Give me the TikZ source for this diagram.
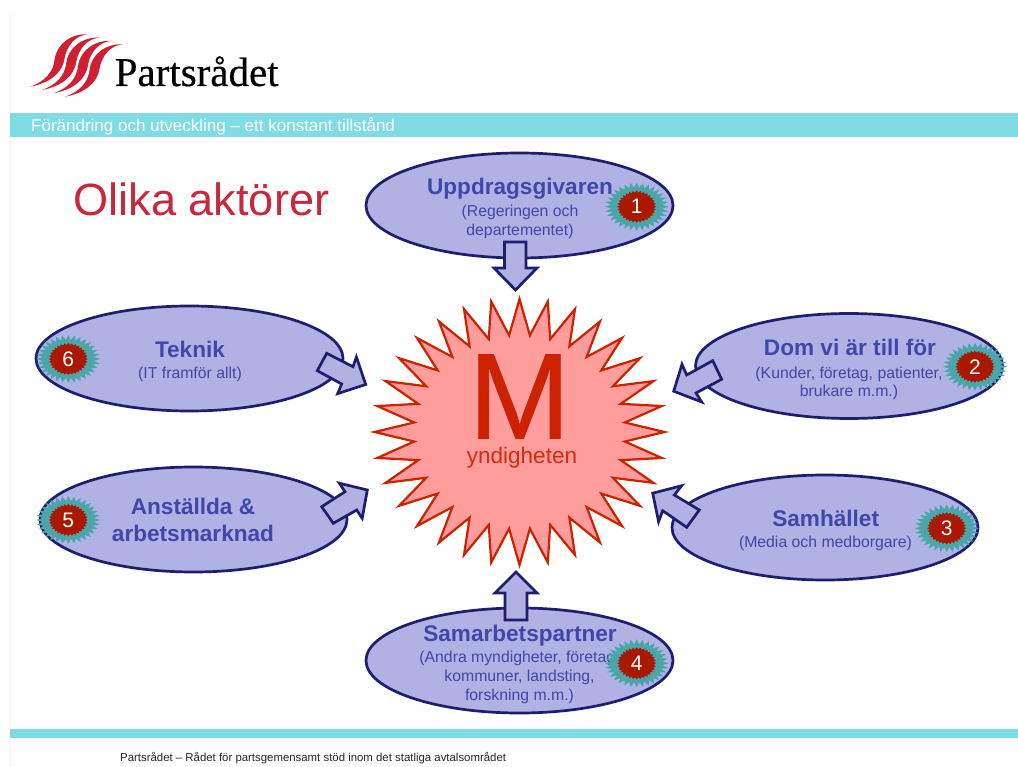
\documentclass[tikz,border=0pt]{standalone}
\usepackage{fontspec}
\setmainfont{Liberation Sans}
\newfontfamily\logofont[FakeBold=0.4]{Liberation Serif}
\newfontfamily\heavyfont[FakeBold=0.6]{Liberation Sans}
\usetikzlibrary{shapes.geometric}
\definecolor{barc}{HTML}{80DCE4}
\definecolor{ellfill}{HTML}{B0B2E4}
\definecolor{navy}{HTML}{1E1E6E}
\definecolor{txtblue}{HTML}{3F48A8}
\definecolor{starfill}{HTML}{FF9C9C}
\definecolor{starline}{HTML}{CC2200}
\definecolor{teal2}{HTML}{4AA6A8}
\definecolor{darkred}{HTML}{AA1800}
\definecolor{titlered}{HTML}{C8283C}
\definecolor{logored}{HTML}{CF2033}
\newcommand{\fs}[2]{\fontsize{#1}{#2}\selectfont}
\newcommand{\spikes}[6]{%
  \draw[#6] plot[samples at={0,1,...,64},variable=\t]
    ({#1+#3*(mod(\t,2)==0?1:#5)*sin(\t*5.625)},{#2-#4*(mod(\t,2)==0?1:#5)*cos(\t*5.625)}) -- cycle;}
\newcommand{\badge}[4]{%
  \spikes{#1}{#2}{32}{24}{0.8}{fill=teal2,draw=none}
  \spikes{#1}{#2}{19.5}{16}{0.88}{fill=darkred,draw=none}
  \node[numlbl] (#4) at (#1,#2) {#3};}
\newcommand{\swoosh}[2]{%
  \fill[logored,shift={(#1,#2)}] (30,86.7) .. controls (45,81.7) and (53.3,71.7) .. (54.5,60)
    .. controls (56.2,45) and (70,33.3) .. (88.3,34.3)
    .. controls (76,35) and (67,45) .. (64.6,58.3)
    .. controls (62.5,74) and (48,83.5) .. (30,86.7) -- cycle;}
\tikzset{
  actor/.style={ellipse,draw=navy,fill=ellfill,line width=2.7pt,inner sep=0pt,outer sep=0pt},
  blockarrow/.style={draw=navy,fill=ellfill,line width=2.7pt,line join=miter,miter limit=10},
  headlbl/.style={text=txtblue,font=\fs{22.6}{27.7}\bfseries,align=center,inner sep=0pt,anchor=base},
  sublbl/.style={text=txtblue,font=\fs{15.8}{18.6},align=center,inner sep=0pt,anchor=base},
  numlbl/.style={text=white,font=\fs{21}{24},inner sep=0pt},
}
\begin{document}
\begin{tikzpicture}[x=1pt,y=-1pt]
\useasboundingbox (0,0) rectangle (1018,767);
\fill[white] (0,0) rectangle (1018,767);
\draw[black!4,line width=0.6pt] (10,14) -- (10,767);
% logo
\swoosh{0}{0}\swoosh{11.7}{3.3}\swoosh{23.4}{6.6}\swoosh{35}{10}
\node[font=\logofont\fs{41}{44},inner sep=0pt,anchor=base west] (logo) at (114.5,86) {Partsrådet};
% bars
\fill[barc] (10,113) rectangle (1018,137.5);
\fill[barc] (10,729) rectangle (1018,737.5);
\node[text=white,font=\fs{17}{20},inner sep=0pt,anchor=base west] (head) at (31,131.5) {Förändring och utveckling – ett konstant tillstånd};
\node[font=\fs{11.4}{14},inner sep=0pt,anchor=base west,text=black!85] (foot) at (120,761) {Partsrådet – Rådet för partsgemensamt stöd inom det statliga avtalsområdet};
\node[text=titlered,font=\fs{45.2}{50},inner sep=0pt,anchor=base west] (title) at (73,216) {Olika aktörer};
% central star
\spikes{519.5}{432}{145}{133}{0.73}{fill=starfill,draw=starline,line width=2.2pt,miter limit=10}
\node[text=starline,font=\heavyfont\fs{122}{125},inner sep=0pt,anchor=base] (M) at (519.5,438.5) {M};
\node[text=starline!90!starfill,font=\fs{22.5}{26},inner sep=0pt,anchor=base] (myn) at (522,463) {yndigheten};
% actors
\node[actor,minimum width=307pt,minimum height=105pt] (e1) at (519.5,205.5) {};
\node[actor,minimum width=307pt,minimum height=105pt] (e2) at (849,366) {};
\node[actor,minimum width=306pt,minimum height=105pt] (e3) at (825,527.5) {};
\node[actor,minimum width=307pt,minimum height=105pt] (e4) at (519.5,660.5) {};
\node[actor,minimum width=307pt,minimum height=105pt] (e5) at (193.5,519.5) {};
\node[actor,minimum width=307pt,minimum height=105pt] (e6) at (189.5,358.5) {};
% labels
\node[headlbl] (t1) at (520,195) {Uppdragsgivaren};
\node[sublbl] (s1) at (520,216.7) {(Regeringen och};
\node[sublbl] (s1b) at (520,235.3) {departementet)};
\node[headlbl] (t2) at (850,356) {Dom vi är till för};
\node[sublbl] (s2) at (849,378) {(Kunder, företag, patienter,};
\node[sublbl] (s2b) at (849,396.6) {brukare m.m.)};
\node[headlbl] (t3) at (825.7,526.7) {Samhället};
\node[sublbl] (s3) at (825.5,547) {(Media och medborgare)};
\node[headlbl] (t4) at (520,641.7) {Samarbetspartner};
\node[sublbl] (s4) at (519.5,662.3) {(Andra myndigheter, företag,};
\node[sublbl] (s4b) at (519.5,681) {kommuner, landsting,};
\node[sublbl] (s4c) at (519.5,700) {forskning m.m.)};
\node[headlbl] (t5) at (193,514) {Anställda \&};
\node[headlbl] (t5b) at (193,541.7) {arbetsmarknad};
\node[headlbl] (t6) at (190,357.7) {Teknik};
\node[sublbl] (s6) at (190,379) {(IT framför allt)};
% badges
\badge{636.7}{206.7}{1}{b1}
\badge{975}{366.7}{2}{b2}
\badge{946.7}{528.3}{3}{b3}
\badge{636.7}{663.3}{4}{b4}
\badge{68.3}{520}{5}{b5}
\badge{68.3}{359}{6}{b6}
% block arrows
\draw[blockarrow] (504.5,242) -- (526,242) -- (526,268) -- (537,268) -- (515.5,290) -- (494,268) -- (504.5,268) -- cycle;
\draw[blockarrow] (505,620) -- (527,620) -- (527,593) -- (537,593) -- (516,572) -- (495,593) -- (505,593) -- cycle;
\draw[blockarrow] (673.7,391.2) -- (682,364.3) -- (686.7,375) -- (712.7,360.7) -- (721.7,379.3) -- (696,393) -- (701.7,402) -- cycle;
\draw[blockarrow] (652.7,493.2) -- (681.7,485.7) -- (674.3,495) -- (699.3,510) -- (686.7,527.3) -- (662.7,510.7) -- (658.6,521.7) -- cycle;
\draw[blockarrow] (365.7,384.5) -- (356.4,357) -- (353,366.7) -- (326.7,353.3) -- (317.3,370.7) -- (341.7,384) -- (337.7,393.6) -- cycle;
\draw[blockarrow] (367.3,490) -- (339.3,483.2) -- (345,491.7) -- (321.7,506.7) -- (333.3,523.3) -- (356.7,510) -- (362.2,518.3) -- cycle;
\end{tikzpicture}
\end{document}
